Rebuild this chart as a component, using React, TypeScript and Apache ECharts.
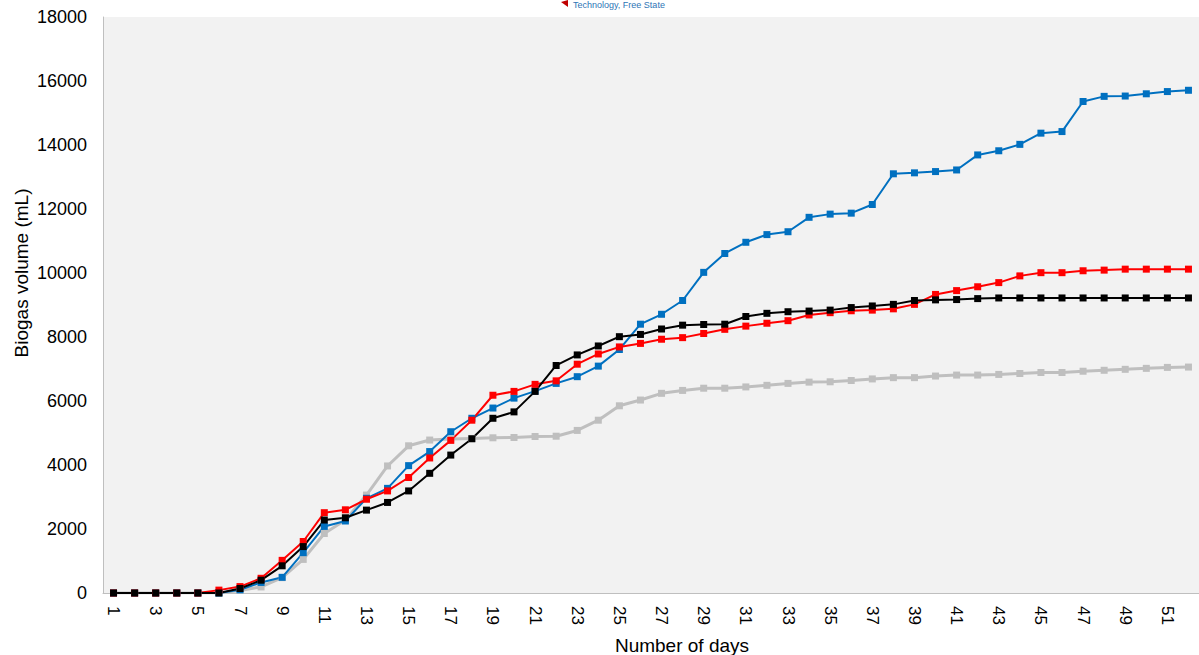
import React, { useEffect, useRef } from "react";
import * as echarts from "echarts";

const days: string[] = Array.from({ length: 52 }, (_, i) => String(i + 1));

const blueSeries: number[] = [
  0, 0, 0, 0, 0, 0, 100, 330, 490, 1260, 2080, 2250, 2960, 3270, 3980, 4420, 5040, 5460, 5780, 6090,
  6310, 6550, 6760, 7090, 7610, 8400, 8710, 9140, 10020, 10610, 10960, 11200, 11290, 11740, 11840,
  11870, 12140, 13100, 13130, 13170, 13220, 13690, 13820, 14020, 14370, 14420, 15360, 15520, 15530,
  15600, 15670, 15710,
];

const redSeries: number[] = [
  0, 0, 0, 0, 0, 90, 200, 460, 1020, 1610, 2510, 2600, 2930, 3190, 3610, 4220, 4770, 5400, 6180, 6300,
  6520, 6630, 7150, 7470, 7690, 7800, 7930, 7980, 8110, 8240, 8340, 8430, 8510, 8690, 8760, 8820, 8840,
  8880, 9020, 9330, 9450, 9570, 9700, 9910, 10010, 10010, 10070, 10090, 10120, 10120, 10120, 10120,
];

const blackSeries: number[] = [
  0, 0, 0, 0, 0, 0, 140, 400, 850, 1450, 2280, 2350, 2590, 2830, 3190, 3740, 4310, 4820, 5460, 5660,
  6300, 7110, 7440, 7720, 8010, 8080, 8250, 8370, 8390, 8400, 8640, 8740, 8790, 8810, 8840, 8920, 8970,
  9020, 9140, 9160, 9170, 9200, 9220, 9220, 9220, 9220, 9220, 9220, 9220, 9220, 9220, 9220,
];

const greySeries: number[] = [
  0, 0, 0, 0, 0, 0, 80, 190, 480, 1050, 1860, 2280, 3060, 3970, 4600, 4780, 4810, 4830, 4850, 4860,
  4890, 4900, 5080, 5400, 5850, 6030, 6240, 6330, 6400, 6400, 6440, 6490, 6550, 6590, 6600, 6640, 6690,
  6730, 6730, 6780, 6810, 6810, 6830, 6860, 6890, 6890, 6930, 6960, 6990, 7020, 7050, 7060,
];

const xTitle = "Number of days";
const yTitle = "Biogas volume (mL)";
const logoText = "Technology, Free State";

const FONT = "'Liberation Sans', Arial, sans-serif";

export default function App() {
  const ref = useRef<HTMLDivElement>(null);

  useEffect(() => {
    if (!ref.current) return;
    const chart = echarts.init(ref.current, undefined, { renderer: "svg" });

    const mkSeries = (name: string, data: number[], color: string, width: number, size: number) => ({
      name,
      type: "line",
      data,
      symbol: "rect",
      symbolSize: size,
      showAllSymbol: true,
      lineStyle: { color, width },
      itemStyle: { color },
      emphasis: { disabled: true },
    });

    chart.setOption({
      animation: false,
      textStyle: { fontFamily: FONT },
      grid: {
        left: 103,
        right: 0,
        top: 17,
        bottom: 62,
        show: true,
        backgroundColor: "#f2f2f2",
        borderWidth: 0,
      },
      xAxis: {
        type: "category",
        data: days,
        boundaryGap: true,
        axisLine: { show: true, lineStyle: { color: "#bfbfbf", width: 1 } },
        axisTick: { show: false },
        axisLabel: {
          interval: 1,
          rotate: -90,
          fontSize: 17,
          color: "#000",
          margin: 13,
          fontFamily: FONT,
        },
        splitLine: { show: false },
      },
      yAxis: {
        type: "value",
        min: 0,
        max: 18000,
        interval: 2000,
        axisLine: { show: true, lineStyle: { color: "#bfbfbf", width: 1 } },
        axisTick: { show: false },
        axisLabel: {
          fontSize: 18,
          color: "#000",
          margin: 16,
          fontFamily: FONT,
          formatter: (v: number) => String(v),
        },
        splitLine: { show: false },
      },
      graphic: [
        {
          type: "polygon",
          shape: { points: [[561, 2], [568, 0], [568, 7]] },
          style: { fill: "#c00000" },
        },
        {
          type: "text",
          x: 573,
          y: 0,
          style: {
            text: logoText,
            fontSize: 9,
            fontFamily: FONT,
            fill: "#2e75b6",
            verticalAlign: "top",
          },
        },
        {
          type: "text",
          x: 682,
          y: 645,
          style: {
            text: xTitle,
            fontSize: 19,
            fontFamily: FONT,
            fill: "#000",
            align: "center",
            verticalAlign: "middle",
          },
        },
        {
          type: "text",
          x: 21,
          y: 273,
          rotation: Math.PI / 2,
          style: {
            text: yTitle,
            fontSize: 19,
            fontFamily: FONT,
            fill: "#000",
            align: "center",
            verticalAlign: "middle",
          },
        },
      ],
      series: [
        mkSeries("Grey", greySeries, "#bfbfbf", 3, 7),
        mkSeries("Blue", blueSeries, "#0070c0", 2, 7),
        mkSeries("Red", redSeries, "#ff0000", 2, 7),
        mkSeries("Black", blackSeries, "#000000", 2, 7),
      ],
    });

    return () => chart.dispose();
  }, []);

  return (
    <div
      ref={ref}
      style={{ position: "absolute", left: 0, top: 0, width: 1199, height: 655, background: "#fff" }}
    />
  );
}
